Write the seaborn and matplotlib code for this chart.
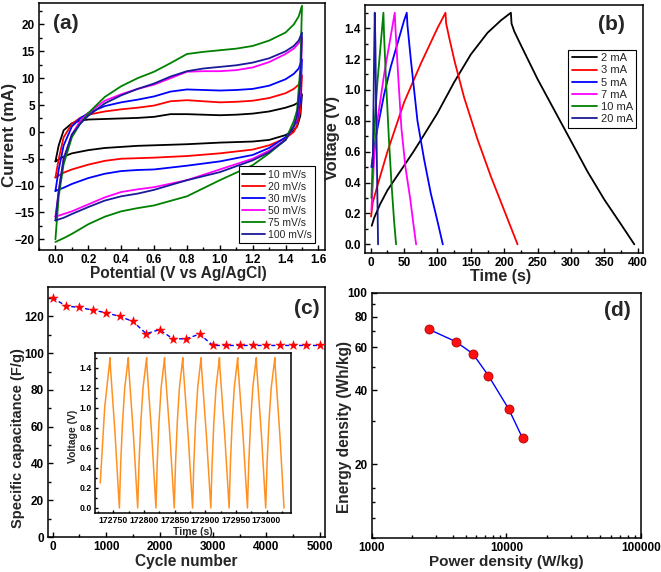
import numpy as np
import pandas as pd
import matplotlib
matplotlib.use("Agg")
import matplotlib.pyplot as plt
import matplotlib.ticker as mticker
from matplotlib.lines import Line2D
import seaborn as sns

# ---------------- data: (a) cyclic voltammetry ----------------
cv_rates = ["10 mV/s", "20 mV/s", "30 mV/s", "50 mV/s", "75 mV/s", "100 mV/s"]
cv_colors = ["#000000", "#ff0000", "#0000ff", "#ff00ff", "#008000", "#1a1a9a"]
E_up = [0.0, 0.02, 0.05, 0.1, 0.15, 0.2, 0.3, 0.4, 0.5, 0.6, 0.7, 0.8, 0.9, 1.0,
        1.1, 1.2, 1.3, 1.4, 1.45, 1.48, 1.5]
E_dn = [1.5, 1.49, 1.47, 1.45, 1.4, 1.3, 1.2, 1.0, 0.8, 0.6, 0.5, 0.4, 0.3, 0.2,
        0.1, 0.05, 0.0]
I_up_10 = [-5.5, -2.5, 0.3, 1.6, 2.1, 2.3, 2.4, 2.5, 2.6, 2.8, 3.3, 3.3, 3.2, 3.1, 3.2, 3.4, 3.8, 4.5, 5.0, 5.5, 7.0]
I_up_20 = [-8.5, -5.0, -1.0, 1.5, 2.6, 3.2, 3.8, 4.2, 4.5, 4.9, 5.7, 5.9, 5.7, 5.5, 5.6, 5.8, 6.3, 7.2, 8.0, 8.8, 10.5]
I_up_30 = [-11.0, -7.0, -2.5, 1.0, 2.5, 3.5, 4.8, 5.5, 6.0, 6.6, 7.5, 7.9, 7.8, 7.7, 7.8, 8.0, 8.6, 9.8, 10.8, 11.8, 13.5]
I_up_50 = [-15.8, -11.0, -5.0, -0.5, 2.0, 3.5, 5.8, 7.0, 8.0, 8.8, 10.0, 11.2, 11.3, 11.3, 11.5, 12.0, 13.0, 14.5, 15.5, 16.5, 17.5]
I_up_75 = [-20.0, -12.0, -6.0, -1.0, 1.5, 3.5, 6.5, 8.5, 10.0, 11.2, 12.8, 14.5, 14.9, 15.2, 15.5, 16.0, 17.0, 18.5, 20.0, 21.5, 23.5]
I_up_100 = [-16.5, -11.0, -5.0, -0.5, 1.5, 3.0, 5.3, 6.8, 8.0, 9.0, 10.3, 11.3, 11.8, 12.1, 12.4, 12.9, 13.7, 15.0, 16.0, 17.0, 18.5]
I_dn_10 = [7.0, 3.0, 1.0, 0.3, -0.6, -1.5, -1.8, -2.0, -2.3, -2.5, -2.6, -2.8, -3.0, -3.4, -4.0, -4.6, -5.5]
I_dn_20 = [10.5, 4.0, 1.2, 0.0, -1.2, -2.5, -3.3, -4.0, -4.5, -4.8, -4.9, -5.0, -5.4, -6.1, -7.0, -7.6, -8.5]
I_dn_30 = [13.5, 6.0, 2.0, 1.0, -1.0, -3.0, -4.3, -5.5, -6.3, -7.0, -7.1, -7.3, -7.8, -8.6, -9.7, -10.4, -11.0]
I_dn_50 = [17.5, 8.0, 2.5, 1.0, -1.5, -3.5, -5.0, -7.0, -9.0, -10.3, -10.7, -11.2, -12.2, -13.5, -14.8, -15.3, -15.8]
I_dn_75 = [23.5, 12.0, 4.0, 2.0, -1.5, -4.0, -6.2, -9.0, -12.0, -13.7, -14.2, -14.8, -15.8, -17.2, -19.0, -19.8, -20.5]
I_dn_100 = [18.5, 9.0, 3.0, 1.0, -1.5, -3.8, -5.3, -7.5, -9.0, -10.8, -11.5, -12.0, -12.8, -14.0, -15.3, -16.0, -16.5]

# ---------------- data: (b) galvanostatic charge/discharge ----------------
gcd_labels = ["2 mA", "3 mA", "5 mA", "7 mA", "10 mA", "20 mA"]
gcd_colors = ["#000000", "#ff0000", "#0000ff", "#ff00ff", "#008000", "#1a1a9a"]
t_2 = [1.5, 5, 14, 25, 39, 50, 64, 80, 100, 125, 150, 175, 195, 210, 211, 215, 225, 250, 275, 300, 325, 350, 375, 395]
v_2 = [0.12, 0.17, 0.26, 0.35, 0.44, 0.51, 0.60, 0.71, 0.85, 1.05, 1.23, 1.37, 1.45, 1.50, 1.43, 1.38, 1.29, 1.07, 0.87, 0.67, 0.47, 0.29, 0.13, 0.0]
t_3 = [0.5, 3, 10, 25, 50, 75, 100, 112, 113, 118, 126, 140, 160, 180, 200, 220]
v_3 = [0.18, 0.27, 0.38, 0.60, 0.92, 1.17, 1.40, 1.50, 1.43, 1.33, 1.18, 0.95, 0.68, 0.44, 0.22, 0.0]
t_5 = [1, 3, 10, 20, 30, 40, 50, 54, 55, 60, 70, 80, 90, 100, 108]
v_5 = [0.50, 0.57, 0.75, 0.97, 1.15, 1.30, 1.45, 1.50, 1.42, 1.20, 0.80, 0.55, 0.33, 0.15, 0.0]
t_7 = [1, 5, 10, 20, 30, 36, 37, 41, 46, 52, 59, 64, 68]
v_7 = [0.22, 0.55, 0.80, 1.10, 1.35, 1.50, 1.40, 1.10, 0.75, 0.50, 0.30, 0.13, 0.0]
t_10 = [1, 3, 6, 10, 15, 19, 20, 23, 27, 31, 35, 38]
v_10 = [0.30, 0.55, 0.80, 1.05, 1.30, 1.50, 1.35, 1.05, 0.70, 0.40, 0.15, 0.0]
t_20 = [3, 4, 5, 6, 7, 8, 9.5, 11]
v_20 = [0.50, 0.85, 1.20, 1.50, 1.30, 0.90, 0.45, 0.0]

# ---------------- data: (c) cycling stability ----------------
cycles = [0, 250, 500, 750, 1000, 1250, 1500, 1750, 2000, 2250, 2500, 2750, 3000,
          3250, 3500, 3750, 4000, 4250, 4500, 4750, 5000]
capacitance = [130.1, 125.6, 124.9, 123.4, 122.0, 120.0, 117.3, 110.6, 112.8, 107.8,
               107.8, 110.4, 104.2, 104.2, 104.2, 104.2, 104.2, 104.2, 104.2, 104.2, 104.2]

# inset: repeated charge/discharge cycles
inset_start_t = 172728.6
inset_start_v = 0.25
peak_t = [172744.6, 172774.4, 172804.3, 172833.6, 172863.4, 172893.2, 172923.2,
          172953.0, 172983.4, 173013.7]
trough_t = [172759.8, 172789.7, 172819.5, 172849.4, 172879.3, 172909.1, 172939.0,
            172968.9, 172998.7, 173028.6]
charge_frac = [0.0, 0.15, 0.35, 0.6, 1.0]
charge_v = [0.0, 0.45, 0.85, 1.2, 1.5]
discharge_frac = [0.0, 0.03, 0.55, 1.0]
discharge_v = [1.5, 1.42, 0.72, 0.0]

# ---------------- data: (d) Ragone plot ----------------
power_density = [2650, 4210, 5630, 7350, 10400, 13200]
energy_density = [71.1, 63.3, 56.5, 46.0, 33.6, 25.5]

# ---------------- style ----------------
sns.set_style("ticks")
plt.rcParams["font.family"] = ["Liberation Sans", "DejaVu Sans"]
plt.rcParams["font.weight"] = "bold"
plt.rcParams["axes.labelweight"] = "bold"
plt.rcParams["axes.linewidth"] = 1.1
plt.rcParams["xtick.direction"] = "in"
plt.rcParams["ytick.direction"] = "in"

W, H = 661, 572
fig = plt.figure(figsize=(W / 100, H / 100), dpi=100)


def px_axes(l, t, r, b):
    return fig.add_axes([l / W, 1 - b / H, (r - l) / W, (b - t) / H])


def style_axes(ax, fs=8.5, major=3.5, minor=2.0, pad=3.0):
    for s in ax.spines.values():
        s.set_visible(True)
        s.set_color("black")
    ax.tick_params(which="both", direction="in", top=False, right=False,
                   labelsize=fs, colors="black", width=1.0, pad=pad)
    ax.tick_params(which="major", length=major)
    ax.tick_params(which="minor", length=minor)
    for lab in ax.get_xticklabels() + ax.get_yticklabels():
        lab.set_fontweight("bold")


def labels(ax, xl, yl, xs, ys, xc, yc):
    ax.set_xlabel(xl, fontsize=xs, fontweight="bold")
    ax.set_ylabel(yl, fontsize=ys, fontweight="bold")
    ax.xaxis.set_label_coords(*xc)
    ax.yaxis.set_label_coords(*yc)


# ---------------- (a) ----------------
ax_a = px_axes(39, 3, 325, 250)
rows = []
ups = [I_up_10, I_up_20, I_up_30, I_up_50, I_up_75, I_up_100]
dns = [I_dn_10, I_dn_20, I_dn_30, I_dn_50, I_dn_75, I_dn_100]
for lab, iu, idn in zip(cv_rates, ups, dns):
    order = 0
    for e, i in zip(E_up, iu):
        rows.append((lab, order, e, i)); order += 1
    for e, i in zip(E_dn, idn):
        rows.append((lab, order, e, i)); order += 1
df_cv = pd.DataFrame(rows, columns=["rate", "order", "E", "I"])
sns.lineplot(data=df_cv, x="E", y="I", hue="rate", hue_order=cv_rates,
             palette=cv_colors, sort=False, estimator=None, lw=1.3, ax=ax_a,
             legend=False)
ax_a.set_xlim(-0.1, 1.64)
ax_a.set_ylim(-22, 24)
ax_a.xaxis.set_major_locator(mticker.MultipleLocator(0.2))
ax_a.xaxis.set_minor_locator(mticker.MultipleLocator(0.1))
ax_a.xaxis.set_major_formatter(mticker.FormatStrFormatter("%.1f"))
ax_a.yaxis.set_major_locator(mticker.MultipleLocator(5))
ax_a.yaxis.set_minor_locator(mticker.MultipleLocator(2.5))
style_axes(ax_a)
labels(ax_a, "Potential (V vs Ag/AgCl)", "Current (mA)", 11.2, 12.2,
       (0.487, -0.066), (-0.077, 0.466))
h_a = [Line2D([], [], color=c, lw=1.3) for c in cv_colors]
leg = ax_a.legend(h_a, cv_rates, loc="lower right", bbox_to_anchor=(0.965, 0.028),
                  borderaxespad=0, handlelength=2.2, labelspacing=0.2,
                  handletextpad=0.3, borderpad=0.3, fancybox=False, framealpha=1,
                  edgecolor="black", prop={"weight": "normal", "size": 7.5})
leg.get_frame().set_linewidth(0.8)
ax_a.text(0.094, 0.919, "(a)", transform=ax_a.transAxes, ha="center", va="center",
          fontsize=15, fontweight="bold")

# ---------------- (b) ----------------
ax_b = px_axes(365, 5, 643, 253)
rows = []
for lab, tt, vv in zip(gcd_labels, [t_2, t_3, t_5, t_7, t_10, t_20],
                       [v_2, v_3, v_5, v_7, v_10, v_20]):
    for k, (a, b) in enumerate(zip(tt, vv)):
        rows.append((lab, k, a, b))
df_gcd = pd.DataFrame(rows, columns=["cur", "order", "t", "V"])
sns.lineplot(data=df_gcd, x="t", y="V", hue="cur", hue_order=gcd_labels,
             palette=gcd_colors, sort=False, estimator=None, lw=1.3, ax=ax_b,
             legend=False)
ax_b.set_xlim(-8.6, 408)
ax_b.set_ylim(-0.056, 1.55)
ax_b.xaxis.set_major_locator(mticker.MultipleLocator(50))
ax_b.xaxis.set_minor_locator(mticker.MultipleLocator(25))
ax_b.yaxis.set_major_locator(mticker.MultipleLocator(0.2))
ax_b.yaxis.set_minor_locator(mticker.MultipleLocator(0.1))
ax_b.yaxis.set_major_formatter(mticker.FormatStrFormatter("%.1f"))
style_axes(ax_b)
labels(ax_b, "Time (s)", "Voltage (V)", 11.6, 11.8, (0.486, -0.066), (-0.09, 0.464))
h_b = [Line2D([], [], color=c, lw=1.3) for c in gcd_colors]
leg = ax_b.legend(h_b, gcd_labels, loc="upper right", bbox_to_anchor=(0.975, 0.819),
                  borderaxespad=0, handlelength=2.3, labelspacing=0.2,
                  handletextpad=0.3, borderpad=0.3, fancybox=False, framealpha=1,
                  edgecolor="black", prop={"weight": "normal", "size": 8})
leg.get_frame().set_linewidth(0.8)
ax_b.text(0.885, 0.923, "(b)", transform=ax_b.transAxes, ha="center", va="center",
          fontsize=15, fontweight="bold")

# ---------------- (c) ----------------
ax_c = px_axes(48, 287, 325, 537)
df_c = pd.DataFrame({"cycle": cycles, "cap": capacitance})
sns.lineplot(data=df_c, x="cycle", y="cap", color="#0000ff", lw=1.0,
             linestyle=(0, (3, 2)), ax=ax_c)
sns.scatterplot(data=df_c, x="cycle", y="cap", color="#ff0000", marker="*",
                s=50, edgecolor="#ff0000", linewidth=0.3, ax=ax_c, zorder=3)
ax_c.set_xlim(-90, 5100)
ax_c.set_ylim(0, 136)
ax_c.xaxis.set_major_locator(mticker.MultipleLocator(1000))
ax_c.xaxis.set_minor_locator(mticker.MultipleLocator(500))
ax_c.yaxis.set_major_locator(mticker.MultipleLocator(20))
ax_c.yaxis.set_minor_locator(mticker.MultipleLocator(10))
style_axes(ax_c)
labels(ax_c, "Cycle number", "Specific capacitance (F/g)", 11.2, 10.5,
       (0.498, -0.068), (-0.083, 0.396))
ax_c.text(0.934, 0.912, "(c)", transform=ax_c.transAxes, ha="center", va="center",
          fontsize=15, fontweight="bold")

# inset
ax_in = px_axes(95, 352.7, 291, 513)
in_t = [inset_start_t]
in_v = [inset_start_v]
prev_trough = None
for k, (pk, tr) in enumerate(zip(peak_t, trough_t)):
    if prev_trough is not None:
        for f, v in zip(charge_frac[1:], charge_v[1:]):
            in_t.append(prev_trough + f * (pk - prev_trough)); in_v.append(v)
    else:
        in_t.append(inset_start_t + 0.45 * (pk - inset_start_t)); in_v.append(1.0)
        in_t.append(pk); in_v.append(1.5)
    for f, v in zip(discharge_frac[1:], discharge_v[1:]):
        in_t.append(pk + f * (tr - pk)); in_v.append(v)
    prev_trough = tr
df_in = pd.DataFrame({"t": in_t, "V": in_v})
sns.lineplot(data=df_in, x="t", y="V", color="#ff9122", lw=1.1, sort=False,
             estimator=None, ax=ax_in)
ax_in.set_xlim(172720, 173040)
ax_in.set_ylim(-0.05, 1.55)
ax_in.xaxis.set_major_locator(mticker.MultipleLocator(50))
ax_in.xaxis.set_minor_locator(mticker.MultipleLocator(25))
ax_in.xaxis.set_major_formatter(mticker.FormatStrFormatter("%d"))
ax_in.yaxis.set_major_locator(mticker.MultipleLocator(0.2))
ax_in.yaxis.set_minor_locator(mticker.MultipleLocator(0.1))
ax_in.yaxis.set_major_formatter(mticker.FormatStrFormatter("%.1f"))
style_axes(ax_in, fs=6.3, major=2.5, minor=1.5, pad=2.5)
ax_in.set_xlabel("Time (s)", fontsize=7.5, fontweight="bold")
ax_in.set_ylabel("Voltage (V)", fontsize=7.5, fontweight="bold")
ax_in.xaxis.set_label_coords(0.5, -0.085)
ax_in.yaxis.set_label_coords(-0.087, 0.476)

# ---------------- (d) ----------------
ax_d = px_axes(371.7, 293, 641, 537.7)
df_d = pd.DataFrame({"P": power_density, "E": energy_density})
sns.lineplot(data=df_d, x="P", y="E", color="#0000ff", lw=1.0, ax=ax_d)
sns.scatterplot(data=df_d, x="P", y="E", color="#ff1010", s=42,
                edgecolor="#b00000", linewidth=0.6, ax=ax_d, zorder=3)
ax_d.set_xscale("log")
ax_d.set_yscale("log")
ax_d.set_xlim(1000, 100000)
ax_d.set_ylim(10, 100)
ax_d.xaxis.set_major_locator(mticker.FixedLocator([1000, 10000, 100000]))
ax_d.xaxis.set_major_formatter(mticker.FormatStrFormatter("%d"))
ax_d.xaxis.set_minor_locator(mticker.LogLocator(base=10, subs=np.arange(2, 10)))
ax_d.xaxis.set_minor_formatter(mticker.NullFormatter())
ax_d.yaxis.set_major_locator(mticker.FixedLocator([20, 40, 60, 80, 100]))
ax_d.yaxis.set_major_formatter(mticker.FormatStrFormatter("%d"))
ax_d.yaxis.set_minor_locator(mticker.FixedLocator([10, 12, 14, 16, 30, 50, 70, 90]))
ax_d.yaxis.set_minor_formatter(mticker.NullFormatter())
style_axes(ax_d)
labels(ax_d, "Power density (W/kg)", "Energy density (Wh/kg)", 11.0, 11.2,
       (0.501, -0.07), (-0.074, 0.454))
ax_d.text(0.913, 0.93, "(d)", transform=ax_d.transAxes, ha="center", va="center",
          fontsize=15, fontweight="bold")

fig.savefig("out.png", dpi=100)
